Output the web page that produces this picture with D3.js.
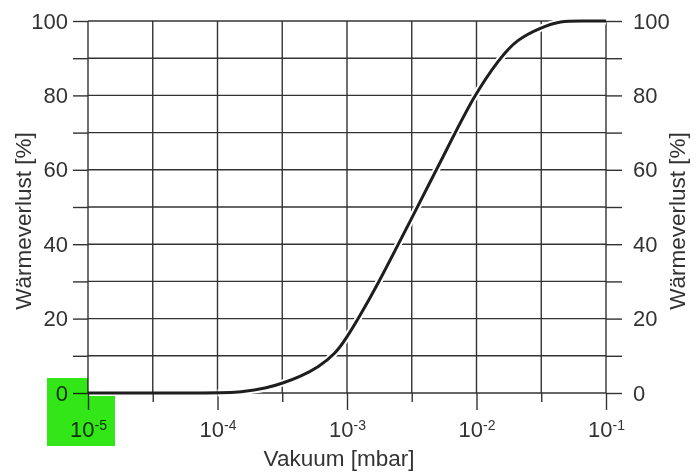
<!DOCTYPE html>
<html>
<head>
<meta charset="utf-8">
<script src="https://cdn.jsdelivr.net/npm/d3@7"></script>
<style>
  body { margin: 0; background: #fff; }
  svg { display: block; font-family: "Liberation Sans", Arial, sans-serif; }
  .axis text { fill: #333; font-size: 22px; }
  .axis line { stroke: #333; stroke-width: 1.4; }
  .axis path { display: none; }
</style>
</head>
<body>
<svg id="chart" width="700" height="472"></svg>
<script>
// pressure in mbar vs. heat loss in %
var pressure = [1e-5, 1e-4, 1.51e-4, 2.4e-4, 3.16e-4, 4.37e-4, 6.03e-4, 8.13e-4, 1e-3, 1.22e-3,
                1.66e-3, 3.16e-3, 5.62e-3, 9.55e-3, 1.51e-2, 2.04e-2, 3.16e-2, 4.47e-2, 6.3e-2, 1e-1];
var heatLoss = [0, 0, 0.2, 1.3, 2.6, 4.4, 7, 10.5, 15, 20,
                28, 47, 64, 80, 90, 95, 98.3, 100, 100, 100];

var decadeTicks = [1e-5, 1e-4, 1e-3, 1e-2, 1e-1];
var halfTicks = [3.162e-5, 3.162e-4, 3.162e-3, 3.162e-2];
var exponents = ["-5", "-4", "-3", "-2", "-1"];
var yTicks = [0, 10, 20, 30, 40, 50, 60, 70, 80, 90, 100];

var xTitle = "Vakuum [mbar]";
var yTitle = "Wärmeverlust [%]";

var svg = d3.select("#chart");

var plotLeft = 88, plotRight = 606, plotTop = 21, plotBottom = 393;

var x = d3.scaleLog().domain([1e-5, 1e-1]).range([plotLeft, plotRight]);
var y = d3.scaleLinear().domain([0, 100]).range([plotBottom, plotTop]);

// vertical grid
svg.append("g").selectAll("line")
  .data(decadeTicks.concat(halfTicks))
  .enter().append("line")
  .attr("x1", function(d) { return x(d); })
  .attr("x2", function(d) { return x(d); })
  .attr("y1", plotTop).attr("y2", plotBottom)
  .attr("stroke", "#333").attr("stroke-width", 1.4);

// horizontal grid
svg.append("g").selectAll("line")
  .data(yTicks)
  .enter().append("line")
  .attr("x1", plotLeft).attr("x2", plotRight)
  .attr("y1", function(d) { return y(d); })
  .attr("y2", function(d) { return y(d); })
  .attr("stroke", "#333").attr("stroke-width", 1.4);

var yLabel = function(d) { return d % 20 === 0 ? d : ""; };

svg.append("g").attr("class", "axis")
  .attr("transform", "translate(" + plotLeft + ",0)")
  .call(d3.axisLeft(y).tickValues(yTicks).tickSize(15).tickPadding(5).tickFormat(yLabel));

svg.append("g").attr("class", "axis")
  .attr("transform", "translate(" + plotRight + ",0)")
  .call(d3.axisRight(y).tickValues(yTicks).tickSize(16).tickPadding(11).tickFormat(yLabel));

svg.append("g").attr("class", "axis")
  .attr("transform", "translate(0," + plotBottom + ")")
  .call(d3.axisBottom(x).tickValues(halfTicks).tickSize(9).tickFormat(""));

var xAxis = svg.append("g").attr("class", "axis")
  .attr("transform", "translate(0," + plotBottom + ")")
  .call(d3.axisBottom(x).tickValues(decadeTicks).tickSize(17).tickPadding(11).tickFormat(""));

xAxis.selectAll(".tick text").each(function(d, i) {
  var t = d3.select(this).attr("dy", "0.71em");
  t.append("tspan").text("10");
  t.append("tspan").attr("dy", "-0.45em").style("font-size", "14px").text(exponents[i]);
});

// curve
var line = d3.line()
  .x(function(d) { return x(d[0]); })
  .y(function(d) { return y(d[1]); })
  .curve(d3.curveBasis);

var pts = d3.zip(pressure, heatLoss);

svg.append("path").datum(pts.slice(1))
  .attr("d", line).attr("fill", "none")
  .attr("stroke", "#fff").attr("stroke-width", 7);

svg.append("path").datum(pts)
  .attr("d", line).attr("fill", "none")
  .attr("stroke", "#1e1e1e").attr("stroke-width", 3)
  .attr("stroke-linejoin", "round");

// titles
svg.append("text")
  .attr("x", 339).attr("y", 466)
  .attr("text-anchor", "middle")
  .attr("fill", "#333").style("font-size", "22.5px")
  .text(xTitle);

svg.append("text")
  .attr("transform", "translate(31,221) rotate(-90)")
  .attr("text-anchor", "middle")
  .attr("fill", "#333").style("font-size", "22.5px")
  .text(yTitle);

svg.append("text")
  .attr("transform", "translate(685,221) rotate(-90)")
  .attr("text-anchor", "middle")
  .attr("fill", "#333").style("font-size", "22.5px")
  .text(yTitle);

// green highlight over the origin labels
svg.append("path")
  .attr("d", "M47,378H88V396H115V446H47Z")
  .attr("fill", "#33e617")
  .style("mix-blend-mode", "multiply");
</script>
</body>
</html>
